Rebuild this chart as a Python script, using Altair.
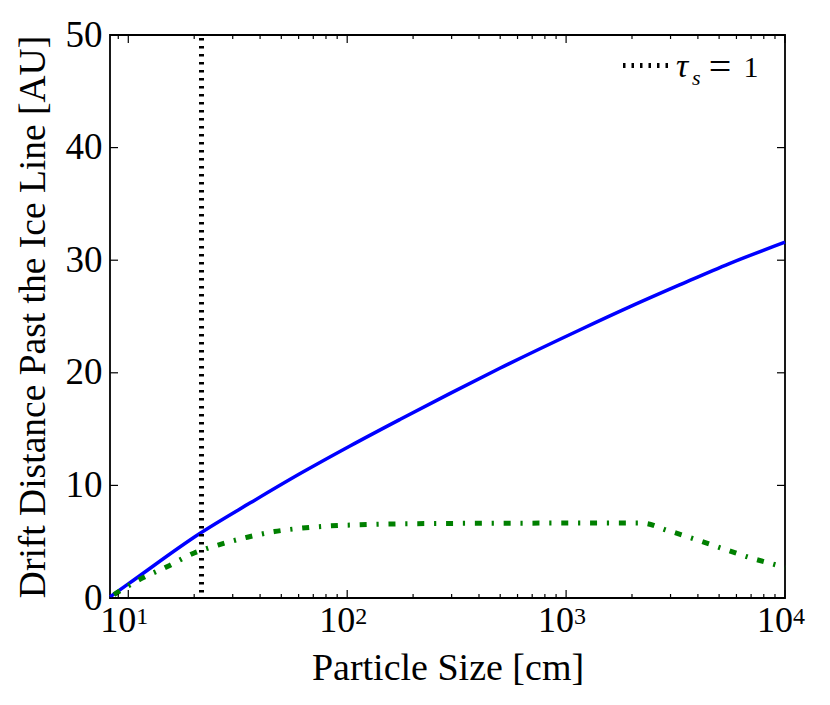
import altair as alt
import pandas as pd

# ---- data ----
blue_size = [8.25, 10, 21.3, 36.1, 61.0, 103, 174, 294, 498, 1153, 1950, 3296, 5572, 10000]
blue_drift = [0.1, 1.25, 5.75, 8.45, 11.05, 13.5, 15.85, 18.15, 20.4, 23.8, 25.85, 27.8, 29.7, 31.6]

green_size = [8.6, 11.4, 15.1, 20, 25.7, 35, 46.5, 61.7, 83, 113.5, 200, 813, 2230,
              2911, 3908, 5176, 6871, 9226, 10000]
green_drift = [0.3, 1.7, 2.8, 4.0, 4.7, 5.4, 5.9, 6.2, 6.4, 6.5, 6.6, 6.65, 6.65,
               6.0, 5.2, 4.4, 3.6, 2.9, 2.7]

tau_s_size = [21.6]

x_major = [10, 100, 1000, 10000]
x_exponent = ["1", "2", "3", "4"]
x_minor = [9, 20, 30, 40, 50, 60, 70, 80, 90, 200, 300, 400, 500, 600, 700, 800, 900,
           2000, 3000, 4000, 5000, 6000, 7000, 8000, 9000]
y_ticks = [0, 10, 20, 30, 40, 50]

X_TITLE = "Particle Size [cm]"
Y_TITLE = "Drift Distance Past the Ice Line [AU]"

W, H = 675, 563
FONT = "Liberation Serif"

blue_df = pd.DataFrame({"size": blue_size, "drift": blue_drift})
green_df = pd.DataFrame({"size": green_size, "drift": green_drift})
tau_df = pd.DataFrame({"size": tau_s_size})
major_df = pd.DataFrame({"size": x_major, "exp": x_exponent})
minor_df = pd.DataFrame({"size": x_minor})
yt_df = pd.DataFrame({"drift": y_ticks})
one = pd.DataFrame({"k": [0]})

xs = alt.Scale(type="log", domain=[8.25, 10000], nice=False)
ys = alt.Scale(domain=[0, 50], nice=False)

x_axis = alt.Axis(labels=False, ticks=False, domain=False, grid=False,
                  title=X_TITLE, titleFont=FONT, titleFontSize=38,
                  titleFontWeight="normal", titleColor="black",
                  titleY=81, titleBaseline="alphabetic")
y_axis = alt.Axis(values=y_ticks, ticks=False, tickSize=0, domain=False, grid=False,
                  labelFont=FONT, labelFontSize=37, labelColor="black",
                  labelPadding=8, labelFlush=False,
                  title=Y_TITLE, titleFont=FONT, titleFontSize=37.5,
                  titleFontWeight="normal", titleColor="black",
                  titleX=-66, titleBaseline="alphabetic")

blue = alt.Chart(blue_df).mark_line(color="#0000ff", strokeWidth=3.5,
                                    interpolate="monotone").encode(
    x=alt.X("size:Q", scale=xs, axis=x_axis),
    y=alt.Y("drift:Q", scale=ys, axis=y_axis),
)

green = alt.Chart(green_df).mark_line(color="#008000", strokeWidth=5,
                                      strokeDash=[7, 9.8, 2.2, 9.8],
                                      interpolate="monotone").encode(
    x=alt.X("size:Q", scale=xs),
    y=alt.Y("drift:Q", scale=ys),
)

tau = alt.Chart(tau_df).mark_rule(color="black", strokeWidth=5,
                                  strokeDash=[2.5, 5.5]).encode(
    x=alt.X("size:Q", scale=xs),
    y=alt.value(3), y2=alt.value(H),
)

# ticks (inward, mirrored on all sides)
tick_layers = []
for df, ln in [(major_df, 8), (minor_df, 4)]:
    tick_layers.append(alt.Chart(df).mark_rule(color="black", strokeWidth=1.2).encode(
        x=alt.X("size:Q", scale=xs), y=alt.value(H), y2=alt.value(H - ln)))
    tick_layers.append(alt.Chart(df).mark_rule(color="black", strokeWidth=1.2).encode(
        x=alt.X("size:Q", scale=xs), y=alt.value(0), y2=alt.value(ln)))
tick_layers.append(alt.Chart(yt_df).mark_rule(color="black", strokeWidth=1.2).encode(
    y=alt.Y("drift:Q", scale=ys), x=alt.value(0), x2=alt.value(8)))
tick_layers.append(alt.Chart(yt_df).mark_rule(color="black", strokeWidth=1.2).encode(
    y=alt.Y("drift:Q", scale=ys), x=alt.value(W - 8), x2=alt.value(W)))

# x tick labels 10^n
lab_base = alt.Chart(major_df).mark_text(font=FONT, fontSize=36, align="center",
                                         baseline="alphabetic", dx=-10,
                                         color="black", text="10").encode(
    x=alt.X("size:Q", scale=xs), y=alt.value(H + 34))
lab_exp = alt.Chart(major_df).mark_text(font=FONT, fontSize=24, align="left",
                                        baseline="alphabetic", dx=8,
                                        color="black").encode(
    x=alt.X("size:Q", scale=xs), y=alt.value(H + 25.5), text="exp:N")

# legend
leg_line = alt.Chart(one).mark_rule(color="black", strokeWidth=5,
                                    strokeDash=[2.5, 6]).encode(
    x=alt.value(513), x2=alt.value(560), y=alt.value(30.5))
leg_tau = alt.Chart(one).mark_text(text="τ", font=FONT, fontSize=34, fontStyle="italic",
                                   align="left", baseline="alphabetic",
                                   color="black").encode(x=alt.value(566), y=alt.value(42))
leg_s = alt.Chart(one).mark_text(text="s", font=FONT, fontSize=22, fontStyle="italic",
                                 align="left", baseline="alphabetic",
                                 color="black").encode(x=alt.value(582), y=alt.value(50))
leg_eq = alt.Chart(one).mark_text(text="=", font=FONT, fontSize=40,
                                  align="center", baseline="alphabetic",
                                  color="black").encode(x=alt.value(610), y=alt.value(45))
leg_one = alt.Chart(one).mark_text(text="1", font=FONT, fontSize=30,
                                   align="center", baseline="alphabetic",
                                   color="black").encode(x=alt.value(641), y=alt.value(42))

chart = alt.layer(
    blue, green, tau, *tick_layers, lab_base, lab_exp,
    leg_line, leg_tau, leg_s, leg_eq, leg_one
).properties(
    width=W, height=H,
    autosize=alt.AutoSizeParams(type="none"),
    padding={"left": 102, "top": 27, "right": 30, "bottom": 90},
    background="white",
).configure_view(
    stroke="black", strokeWidth=1.8
)

chart.save("out.html", embed_options={"renderer": "svg", "actions": False})
